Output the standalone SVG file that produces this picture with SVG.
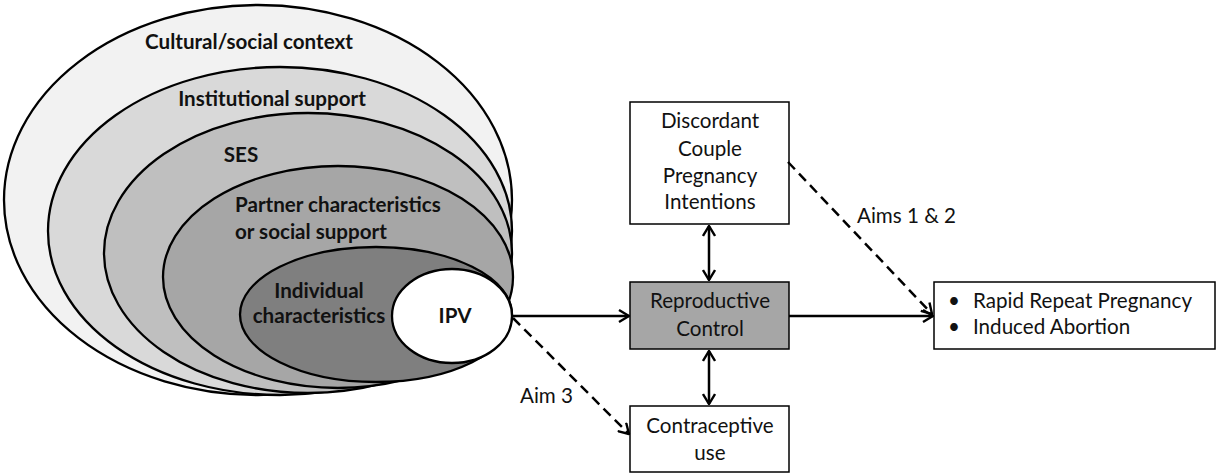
<svg xmlns="http://www.w3.org/2000/svg" width="1216" height="474" viewBox="0 0 1216 474">
<style>
.ell{stroke:#000;stroke-width:2.3}
.b{font-family:Lato,"Liberation Sans",sans-serif;font-weight:bold;font-size:20.6px;fill:#111}
.t{font-family:Lato,"Liberation Sans",sans-serif;font-size:20.6px;fill:#111}
.box{stroke:#000;stroke-width:1.5}
.ln{stroke:#000;stroke-width:2.5;fill:none}
.dash{stroke-dasharray:10 6}
</style>
<defs>
<marker id="arr" viewBox="0 0 12 14" refX="11" refY="7" markerWidth="12" markerHeight="14" markerUnits="userSpaceOnUse" orient="auto-start-reverse">
<path d="M1,1 L11,7 L1,13" fill="none" stroke="#000" stroke-width="2.4"/>
</marker>
</defs>
<rect width="1216" height="474" fill="#fff"/>
<g id="cultural">
<ellipse class="ell" cx="258" cy="200" rx="254" ry="195" fill="#f2f2f2"/>
<text class="b" x="249" y="49" text-anchor="middle">Cultural/social context</text>
</g>
<g id="institutional">
<ellipse class="ell" cx="280" cy="231" rx="232" ry="164" fill="#d9d9d9"/>
<text class="b" x="272" y="106" text-anchor="middle">Institutional support</text>
</g>
<g id="ses">
<ellipse class="ell" cx="308" cy="253" rx="204" ry="140" fill="#bfbfbf"/>
<text class="b" x="241" y="162" text-anchor="middle">SES</text>
</g>
<g id="partner">
<ellipse class="ell" cx="338" cy="277" rx="175" ry="111" fill="#a6a6a6"/>
<text class="b" x="235" y="212">Partner characteristics</text>
<text class="b" x="235" y="239">or social support</text>
</g>
<g id="individual">
<ellipse class="ell" cx="376" cy="314.5" rx="136" ry="67.5" fill="#7f7f7f"/>
<text class="b" x="319" y="298" text-anchor="middle">Individual</text>
<text class="b" x="319" y="323" text-anchor="middle">characteristics</text>
</g>
<g id="ipv">
<ellipse class="ell" cx="452" cy="316" rx="60" ry="47" fill="#fff"/>
<text class="b" x="455" y="323" text-anchor="middle">IPV</text>
</g>
<g id="discordant">
<rect class="box" x="630" y="102" width="159" height="122" fill="#fff"/>
<text class="t" x="710" y="128" text-anchor="middle">Discordant</text>
<text class="t" x="710" y="156" text-anchor="middle">Couple</text>
<text class="t" x="710" y="183" text-anchor="middle">Pregnancy</text>
<text class="t" x="710" y="209" text-anchor="middle">Intentions</text>
</g>
<g id="reproductive">
<rect class="box" x="630" y="282" width="159" height="67" fill="#a6a6a6"/>
<text class="t" x="710" y="308" text-anchor="middle">Reproductive</text>
<text class="t" x="710" y="336" text-anchor="middle">Control</text>
</g>
<g id="contraceptive">
<rect class="box" x="630" y="406" width="159" height="66" fill="#fff"/>
<text class="t" x="710" y="433" text-anchor="middle">Contraceptive</text>
<text class="t" x="710" y="460" text-anchor="middle">use</text>
</g>
<g id="outcomes">
<rect class="box" x="934" y="282" width="281" height="67" fill="#fff"/>
<text class="t" x="948" y="308">•</text>
<text class="t" x="973" y="308">Rapid Repeat Pregnancy</text>
<text class="t" x="948" y="334">•</text>
<text class="t" x="973" y="334">Induced Abortion</text>
</g>
<g id="connectors">
<line class="ln" x1="512" y1="316" x2="629" y2="316" marker-end="url(#arr)"/>
<line class="ln" x1="789" y1="316" x2="933" y2="316" marker-end="url(#arr)"/>
<line class="ln" x1="709" y1="226" x2="709" y2="280" marker-start="url(#arr)" marker-end="url(#arr)"/>
<line class="ln" x1="709" y1="351" x2="709" y2="404" marker-start="url(#arr)" marker-end="url(#arr)"/>
<line class="ln dash" x1="788" y1="162" x2="932" y2="314" marker-end="url(#arr)"/>
<line class="ln dash" x1="513" y1="318" x2="629" y2="434" marker-end="url(#arr)"/>
<text class="t" x="857" y="223">Aims 1 &amp; 2</text>
<text class="t" x="520" y="403">Aim 3</text>
</g>
</svg>
